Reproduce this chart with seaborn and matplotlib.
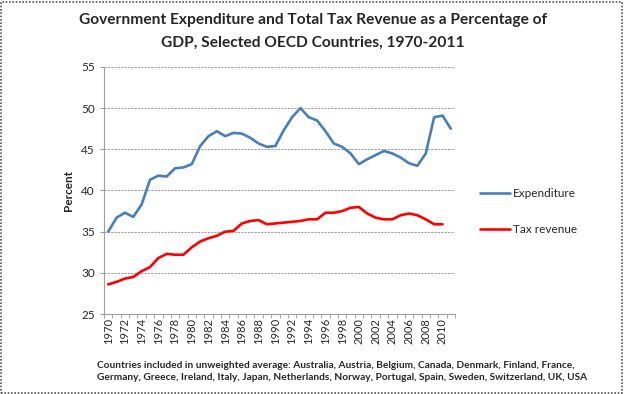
import matplotlib
matplotlib.use("Agg")
import matplotlib.pyplot as plt
import seaborn as sns
import pandas as pd
from matplotlib.patches import Rectangle
from matplotlib.ticker import MultipleLocator

years = list(range(1970, 2012))
expenditure = [35.0, 36.7, 37.3, 36.8, 38.3, 41.3, 41.8, 41.7, 42.7, 42.8,
               43.2, 45.4, 46.6, 47.2, 46.6, 47.0, 46.9, 46.4, 45.7, 45.3,
               45.4, 47.3, 48.9, 50.0, 48.9, 48.5, 47.2, 45.7, 45.3, 44.5,
               43.2, 43.8, 44.3, 44.8, 44.5, 44.0, 43.3, 43.0, 44.5, 48.9,
               49.1, 47.5]
tax_years = list(range(1970, 2011))
tax_revenue = [28.6, 28.9, 29.3, 29.5, 30.2, 30.7, 31.8, 32.3, 32.2, 32.2,
               33.1, 33.8, 34.2, 34.5, 35.0, 35.1, 36.0, 36.3, 36.4, 35.9,
               36.0, 36.1, 36.2, 36.3, 36.5, 36.5, 37.3, 37.3, 37.5, 37.9,
               38.0, 37.2, 36.7, 36.5, 36.5, 37.0, 37.2, 37.0, 36.5, 35.9,
               35.9]

title = ("Government Expenditure and Total Tax Revenue as a Percentage of\n"
         "GDP, Selected OECD Countries, 1970-2011")
note = ("Countries included in unweighted average: Australia, Austria, Belgium, Canada, Denmark, Finland, France,\n"
        "Germany, Greece, Ireland, Italy, Japan, Netherlands, Norway, Portugal, Spain, Sweden, Switzerland, UK, USA")

sns.set_style("white")
plt.rcParams['font.family'] = ['Lato', 'DejaVu Sans']

exp_df = pd.DataFrame({"Year": years, "Percent": expenditure})
tax_df = pd.DataFrame({"Year": tax_years, "Percent": tax_revenue})

fig = plt.figure(figsize=(6.24, 3.94), dpi=100)
ax = fig.add_axes([0.1667, 0.203, 0.5625, 0.627])

sns.lineplot(data=exp_df, x="Year", y="Percent", ax=ax, color="#4A7EBB",
             linewidth=1.9, label="Expenditure")
sns.lineplot(data=tax_df, x="Year", y="Percent", ax=ax, color="#FF0000",
             linewidth=1.9, label="Tax revenue")

ax.set_xlim(1969.5, 2011.5)
ax.set_ylim(25, 55)
ax.yaxis.set_major_locator(MultipleLocator(5))
ax.set_xticks(list(range(1970, 2011, 2)))
ax.set_xticklabels([str(y) for y in range(1970, 2011, 2)], rotation=90)
ax.set_xticks([y + 0.5 for y in range(1969, 2012)], minor=True)
ax.xaxis.set_minor_formatter(plt.NullFormatter())
ax.tick_params(axis='x', which='major', length=0, labelsize=8, pad=3)
ax.tick_params(axis='x', which='minor', length=3, color='#999999', bottom=True)
ax.tick_params(axis='y', which='major', length=3, color='#999999', left=True, labelsize=8.5)

ax.grid(axis='y', color='#A0A0A0', linestyle=(0, (2, 1)), linewidth=0.8)
ax.set_axisbelow(True)
for side in ['top', 'right']:
    ax.spines[side].set_visible(False)
for side in ['left', 'bottom']:
    ax.spines[side].set_color('#A0A0A0')
    ax.spines[side].set_linewidth(0.8)

ax.set_xlabel("")
ax.set_ylabel("Percent", fontsize=8.5, fontweight='bold', labelpad=5)

leg = ax.legend(loc='center left', bbox_to_anchor=(1.04, 0.415), frameon=False,
                fontsize=8.5, handlelength=2.6, handletextpad=0.2, labelspacing=2.1)

fig.text(0.501, 0.966, title, ha='center', va='top', fontsize=11.2,
         fontweight='bold', linespacing=1.75)
fig.text(0.155, 0.084, note, ha='left', va='top', fontsize=7.28,
         fontweight='bold', linespacing=1.5)

fig.patches.append(Rectangle((0.002, 0.003), 0.995, 0.993, transform=fig.transFigure,
                             fill=False, edgecolor='#555555', linewidth=1.2,
                             linestyle=(0, (1, 1))))

fig.savefig("out.png", dpi=100)
